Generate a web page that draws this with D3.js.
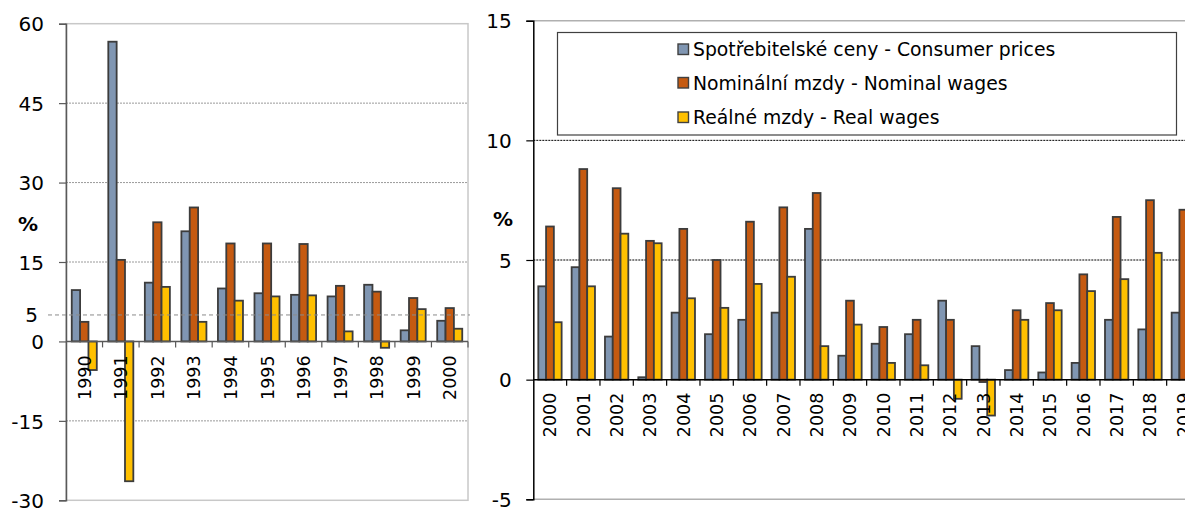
<!DOCTYPE html>
<html>
<head>
<meta charset="utf-8">
<script src="https://cdn.jsdelivr.net/npm/d3@7"></script>
<style>
  body { margin: 0; background: #fff; }
  text { font-family: "DejaVu Sans", Verdana, sans-serif; fill: #000; }
</style>
</head>
<body>
<div id="chart"></div>
<script>
// 1990-2000 panel
var yearsA = ["1990","1991","1992","1993","1994","1995","1996","1997","1998","1999","2000"];
var cpiA  = [9.7, 56.6, 11.1, 20.8, 10.0, 9.1, 8.8, 8.5, 10.7, 2.1, 3.9];
var nomA  = [3.7, 15.4, 22.5, 25.3, 18.5, 18.5, 18.4, 10.5, 9.4, 8.2, 6.3];
var realA = [-5.4, -26.4, 10.3, 3.7, 7.7, 8.5, 8.7, 1.9, -1.2, 6.1, 2.4];
var ticksA = [-30, -15, 0, 15, 30, 45, 60];

// 2000-2019 panel
var yearsB = ["2000","2001","2002","2003","2004","2005","2006","2007","2008","2009",
              "2010","2011","2012","2013","2014","2015","2016","2017","2018","2019"];
var cpiB  = [3.9, 4.7, 1.8, 0.1, 2.8, 1.9, 2.5, 2.8, 6.3, 1.0, 1.5, 1.9, 3.3, 1.4, 0.4, 0.3, 0.7, 2.5, 2.1, 2.8];
var nomB  = [6.4, 8.8, 8.0, 5.8, 6.3, 5.0, 6.6, 7.2, 7.8, 3.3, 2.2, 2.5, 2.5, -0.1, 2.9, 3.2, 4.4, 6.8, 7.5, 7.1];
var realB = [2.4, 3.9, 6.1, 5.7, 3.4, 3.0, 4.0, 4.3, 1.4, 2.3, 0.7, 0.6, -0.8, -1.5, 2.5, 2.9, 3.7, 4.2, 5.3, 4.2];
var ticksB = [-5, 0, 5, 10, 15];

var seriesNames = ["Spotřebitelské ceny - Consumer prices", "Nominální mzdy - Nominal wages", "Reálné mzdy - Real wages"];
var colors = ["#8096b2", "#c55a11", "#ffc000"];

var W = 1185, H = 511;
var svg = d3.select("#chart").append("svg").attr("width", W).attr("height", H);

function panel(cfg) {
  var x = d3.scaleBand().domain(cfg.years).range([cfg.x0, cfg.x1]);
  var y = d3.scaleLinear().domain(cfg.domain).range([cfg.yBottom, cfg.yTop]);
  var bw = x.bandwidth();
  var gw = bw * cfg.groupFrac;
  var inner = d3.scaleBand().domain([0, 1, 2]).range([(bw - gw) / 2, (bw + gw) / 2]);
  var g = svg.append("g");

  // gridlines
  g.selectAll(".grid").data(cfg.grid).enter().append("line")
    .attr("x1", cfg.x0).attr("x2", cfg.gridEnd)
    .attr("y1", function(d) { return y(d); }).attr("y2", function(d) { return y(d); })
    .attr("stroke", cfg.gridColor).attr("stroke-width", 1)
    .attr("stroke-dasharray", "2,1");

  // frame lines
  cfg.frame(g, x, y);

  // bars
  var data = [cfg.cpi, cfg.nom, cfg.real];
  data.forEach(function(vals, s) {
    g.selectAll(".bar" + s).data(vals).enter().append("rect")
      .attr("x", function(d, i) { return x(cfg.years[i]) + inner(s); })
      .attr("width", inner.bandwidth())
      .attr("y", function(d) { return y(Math.max(0, d)); })
      .attr("height", function(d) { return Math.abs(y(d) - y(0)); })
      .attr("fill", colors[s])
      .attr("stroke", "#3c3c3c").attr("stroke-width", 1.8);
  });

  // zero axis + category ticks
  g.append("line").attr("x1", cfg.x0).attr("x2", cfg.zeroEnd)
    .attr("y1", y(0)).attr("y2", y(0)).attr("stroke", cfg.axisColor).attr("stroke-width", 1.5);
  var bounds = cfg.years.map(function(d) { return x(d); }).concat([cfg.x1]);
  g.selectAll(".ct").data(bounds.slice(1)).enter().append("line")
    .attr("x1", function(d) { return d; }).attr("x2", function(d) { return d; })
    .attr("y1", y(0)).attr("y2", y(0) + 6)
    .attr("stroke", cfg.axisColor).attr("stroke-width", 1.2);

  // y axis (plain hyphen for negatives, like the source)
  var ax = d3.axisLeft(y).tickValues(cfg.ticks).tickSize(7).tickFormat(function(d) { return String(d); });
  var axg = g.append("g").attr("transform", "translate(" + cfg.x0 + ",0)").call(ax);
  axg.select(".domain").attr("stroke", cfg.axisColor).attr("stroke-width", 1.5);
  axg.selectAll(".tick line").attr("stroke", cfg.axisColor).attr("stroke-width", 1.2);
  axg.selectAll(".tick text").attr("x", cfg.labelX).attr("dy", "0.36em")
    .style("font-size", "20px").style("font-family", "DejaVu Sans");

  // year labels
  g.selectAll(".yr").data(cfg.years).enter().append("text")
    .attr("transform", function(d) {
      return "translate(" + (x(d) + bw / 2 + 6.5) + "," + (y(0) + cfg.labelGap) + ") rotate(-90)";
    })
    .attr("text-anchor", "end")
    .style("font-size", "17.5px")
    .text(function(d) { return d; });

  // % label
  g.append("text").attr("x", cfg.pctX).attr("y", cfg.pctY).attr("text-anchor", "middle")
    .style("font-size", "20px").style("font-weight", "bold").text("%");

  return { x: x, y: y, g: g };
}

var A = panel({
  years: yearsA, cpi: cpiA, nom: nomA, real: realA, ticks: ticksA,
  domain: [-30, 60], x0: 66, x1: 468, yTop: 23.7, yBottom: 500.3,
  groupFrac: 0.685, grid: [45, 30, 15, -15], gridEnd: 468, gridColor: "#9a9a9a",
  zeroEnd: 468, axisColor: "#595959", labelGap: 14, labelX: -22, pctX: 28, pctY: 231,
  frame: function(g, x, y) {
    g.append("rect").attr("x", 66).attr("y", y(60)).attr("width", 468 - 66)
      .attr("height", y(-30) - y(60)).attr("fill", "none")
      .attr("stroke", "#c8c8c8").attr("stroke-width", 1.5);
  }
});
// special 5 % reference line
A.g.append("line").attr("x1", 48).attr("x2", 470).attr("y1", A.y(5)).attr("y2", A.y(5))
  .attr("stroke", "#8a8a8a").attr("stroke-width", 1).attr("stroke-dasharray", "4,3");
A.g.append("text").attr("x", 38).attr("y", A.y(5)).attr("dy", "0.36em")
  .attr("text-anchor", "end").style("font-size", "20px").text("5");

var B = panel({
  years: yearsB, cpi: cpiB, nom: nomB, real: realB, ticks: ticksB,
  domain: [-5, 15], x0: 533.3, x1: 1200, yTop: 20.7, yBottom: 499.3,
  groupFrac: 0.70, grid: [10, 5], gridEnd: W, gridColor: "#000",
  zeroEnd: W, axisColor: "#000", labelGap: 13, labelX: -21.5, pctX: 503, pctY: 226,
  frame: function(g, x, y) {
    g.append("line").attr("x1", 533.3).attr("x2", W).attr("y1", y(15)).attr("y2", y(15))
      .attr("stroke", "#b0b0b0").attr("stroke-width", 1.5);
    g.append("line").attr("x1", 533.3).attr("x2", W).attr("y1", y(-5)).attr("y2", y(-5))
      .attr("stroke", "#b0b0b0").attr("stroke-width", 1.5);
  }
});

// legend
var lg = svg.append("g");
lg.append("rect").attr("x", 557.5).attr("y", 32.5).attr("width", 619).attr("height", 102.5)
  .attr("fill", "#fff").attr("stroke", "#404040").attr("stroke-width", 1.2);
var rowY = [49.5, 83, 117.5];
seriesNames.forEach(function(name, i) {
  lg.append("rect").attr("x", 678).attr("y", rowY[i] - 5.5).attr("width", 10.5).attr("height", 10.5)
    .attr("fill", colors[i]).attr("stroke", "#404040").attr("stroke-width", 1.4);
  lg.append("text").attr("x", 693).attr("y", rowY[i]).attr("dy", "0.36em")
    .style("font-size", "18.8px").text(name);
});
</script>
</body>
</html>
